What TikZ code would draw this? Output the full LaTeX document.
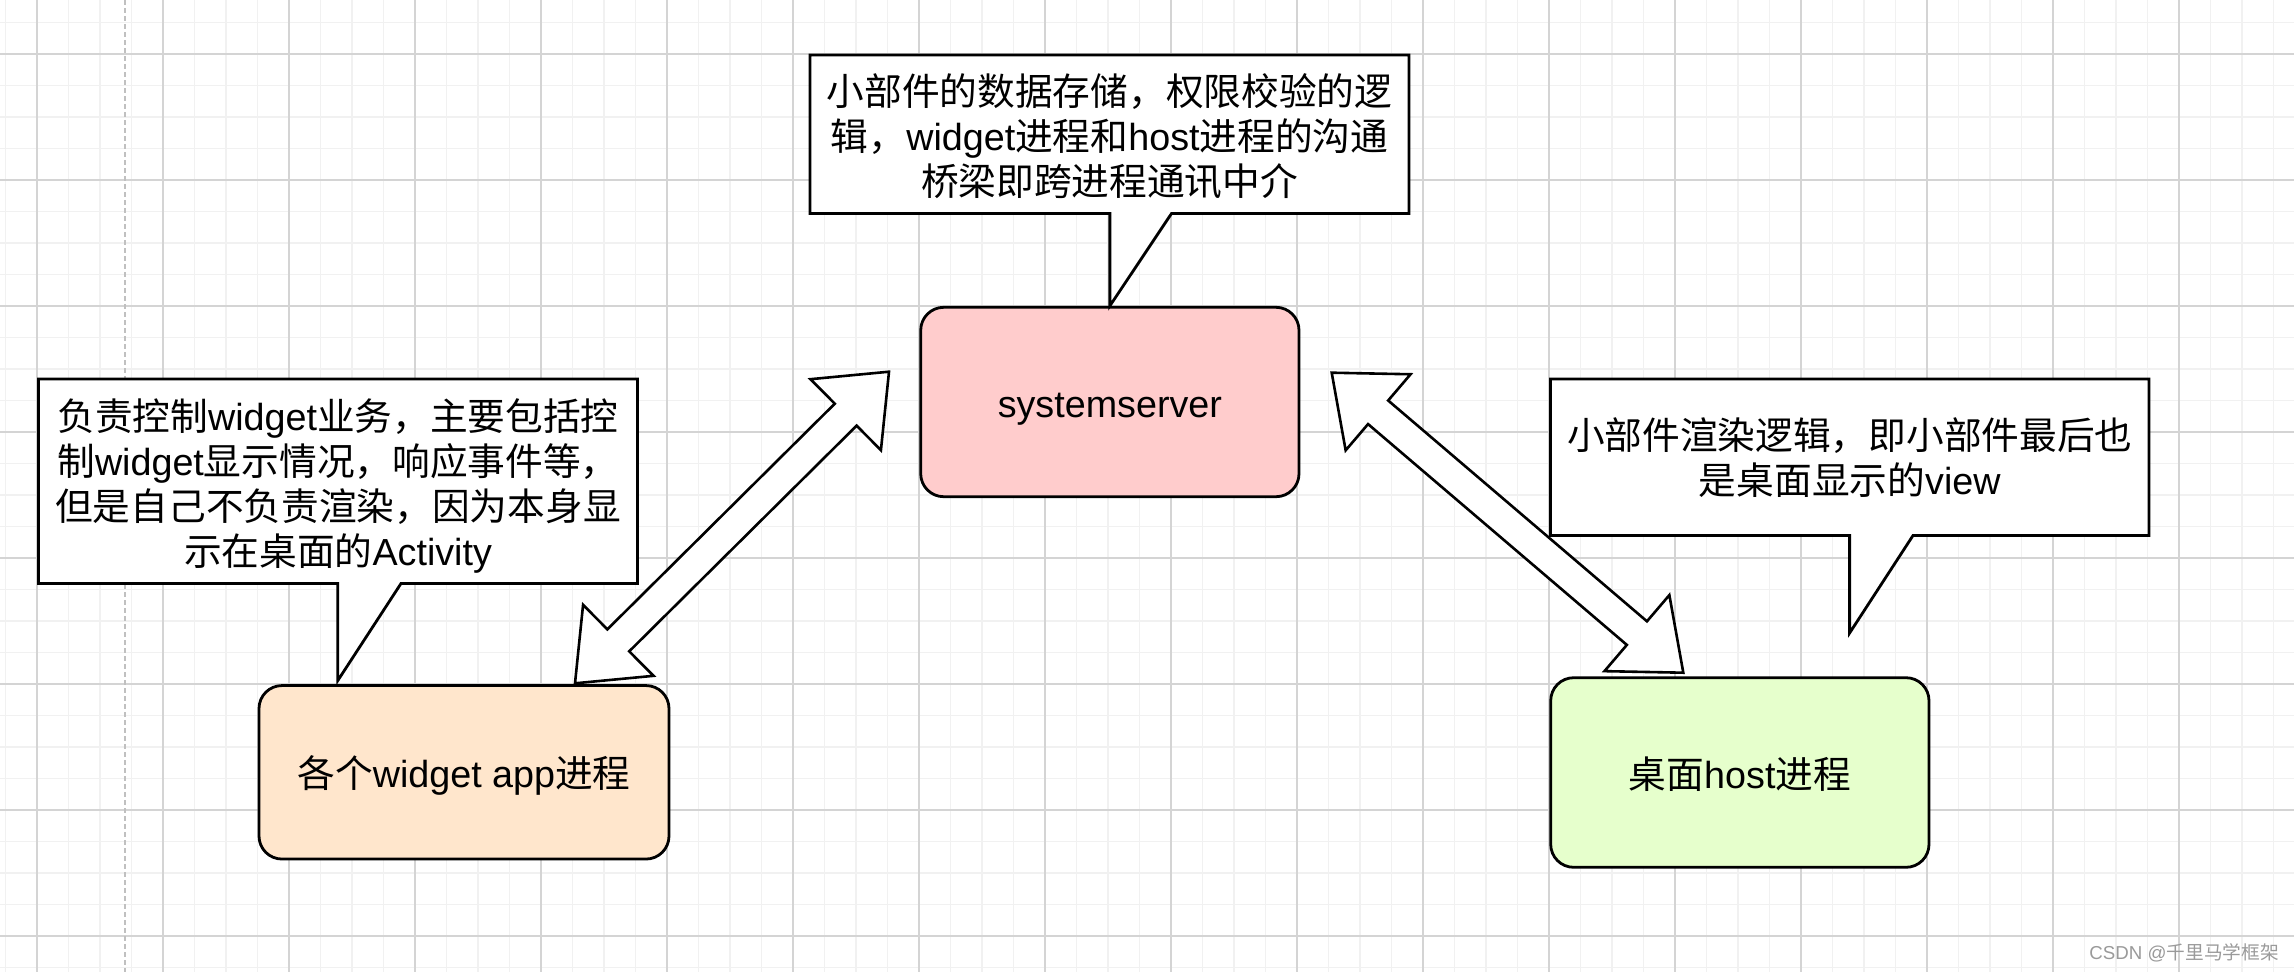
\documentclass[tikz,border=0pt]{standalone}
\usepackage{fontspec}
\setmainfont{Liberation Sans}
\newfontfamily\zhfont{Noto Sans CJK SC}
\newcommand\zh[1]{{\zhfont #1}}
\newcommand\fsbig{\fontsize{37.7pt}{45pt}\selectfont}
\usetikzlibrary{calc}
\definecolor{gridmajor}{HTML}{D4D4D4}
\definecolor{gridminor}{HTML}{F1F1F1}
\definecolor{pagebreak}{HTML}{C0C0C0}
\definecolor{ssfill}{HTML}{FFCCCC}
\definecolor{appfill}{HTML}{FFE6CC}
\definecolor{hostfill}{HTML}{E6FFCC}
\definecolor{wmcolor}{HTML}{9A9A9A}
\newcommand\dblarrow[2]{%
  \coordinate (#1m) at ($(#1)!61pt!(#2)$);
  \coordinate (#2m) at ($(#2)!61pt!(#1)$);
  \draw[blockarrow] (#1)
    -- ($(#1m)!50pt!90:(#2)$) -- ($(#1m)!15.5pt!90:(#2)$)
    -- ($(#2m)!15.5pt!-90:(#1)$) -- ($(#2m)!50pt!-90:(#1)$)
    -- (#2)
    -- ($(#2m)!50pt!90:(#1)$) -- ($(#2m)!15.5pt!90:(#1)$)
    -- ($(#1m)!15.5pt!-90:(#2)$) -- ($(#1m)!50pt!-90:(#2)$)
    -- cycle;}
\begin{document}
\begin{tikzpicture}[x=1pt,y=-1pt,
  box/.style={draw=black, line width=2.8pt, rounded corners=23pt, inner sep=0pt, font=\fsbig, text height=40pt, text depth=9pt},
  callout/.style={draw=black, fill=white, line width=2.8pt, line join=miter},
  ctext/.style={align=center, inner sep=0pt, font=\fsbig},
  blockarrow/.style={draw=black, fill=white, line width=2.6pt, line join=miter},
  minorline/.style={gridminor, line width=1.2pt},
  majorline/.style={gridmajor, line width=1.2pt}]
\useasboundingbox (0,0) rectangle (2294,972);
\fill[white] (0,0) rectangle (2294,972);
% grid
\begin{scope}
\clip (0,0) rectangle (2294,972);
\foreach \i in {0,...,73} \draw[minorline] ({5.5+31.5*\i},0) -- ({5.5+31.5*\i},972);
\foreach \j in {0,...,30} \draw[minorline] (0,{22.5+31.5*\j}) -- (2294,{22.5+31.5*\j});
\foreach \i in {0,...,17} \draw[majorline] ({37+126*\i},0) -- ({37+126*\i},972);
\foreach \j in {0,...,7} \draw[majorline] (0,{54+126*\j}) -- (2294,{54+126*\j});
\end{scope}
\draw[pagebreak, line width=1.5pt, dash pattern=on 5pt off 3pt] (125,0) -- (125,972);

% process boxes
\node[box, fill=ssfill, minimum width=378.3pt, minimum height=189.4pt] (ss) at (1109.85,402) {systemserver};
\node[box, fill=appfill, minimum width=410pt, minimum height=173.5pt] (app) at (464,772.3) {\zh{各个}widget app\zh{进程}};
\node[box, fill=hostfill, minimum width=378.3pt, minimum height=189.6pt] (host) at (1739.85,772.5) {\zh{桌面}host\zh{进程}};

% top callout
\coordinate (c1nw) at (810,55);
\coordinate (c1se) at (1409,213.5);
\draw[callout] (c1nw) -- (c1nw -| c1se) -- (c1se) -- (1171.5,213.5) -- (ss.north) -- (ss.north |- c1se) -- (c1nw |- c1se) -- cycle;
\node[ctext] (t1) at ($(c1nw)!0.5!(c1se)+(0,2)$) {\zh{小部件的数据存储，权限校验的逻}\\\zh{辑，}widget\zh{进程和}host\zh{进程的沟通}\\\zh{桥梁即跨进程通讯中介}};

% left callout
\coordinate (c2nw) at (38.5,379);
\coordinate (c2se) at (637.5,583.5);
\coordinate (c2tip) at (337.7,680.7);
\draw[callout] (c2nw) -- (c2nw -| c2se) -- (c2se) -- (401,583.5) -- (c2tip) -- (c2tip |- c2se) -- (c2nw |- c2se) -- cycle;
\node[ctext] (t2) at ($(c2nw)!0.5!(c2se)+(0,5)$) {\zh{负责控制}widget\zh{业务，主要包括控}\\\zh{制}widget\zh{显示情况，响应事件等，}\\\zh{但是自己不负责渲染，因为本身显}\\\zh{示在桌面的}Activity};

% right callout
\coordinate (c3nw) at (1550.5,379);
\coordinate (c3se) at (2149,535.5);
\coordinate (c3tip) at (1849.6,633);
\draw[callout] (c3nw) -- (c3nw -| c3se) -- (c3se) -- (1913,535.5) -- (c3tip) -- (c3tip |- c3se) -- (c3nw |- c3se) -- cycle;
\node[ctext] (t3) at ($(c3nw)!0.5!(c3se)+(0,0)$) {\zh{小部件渲染逻辑，即小部件最后也}\\\zh{是桌面显示的}view};

% double block arrows
\coordinate (la1) at (575,683.3);
\coordinate (la2) at (889,371.7);
\coordinate (ra1) at (1331.7,372.7);
\coordinate (ra2) at (1683.3,672.7);
\dblarrow{la1}{la2}
\dblarrow{ra1}{ra2}

% watermark
\node[anchor=east, inner sep=0pt, text=wmcolor, font=\fontsize{18.7pt}{20pt}\selectfont] (wm) at (2279,953) {CSDN @\zh{千里马学框架}};
\end{tikzpicture}
\end{document}
